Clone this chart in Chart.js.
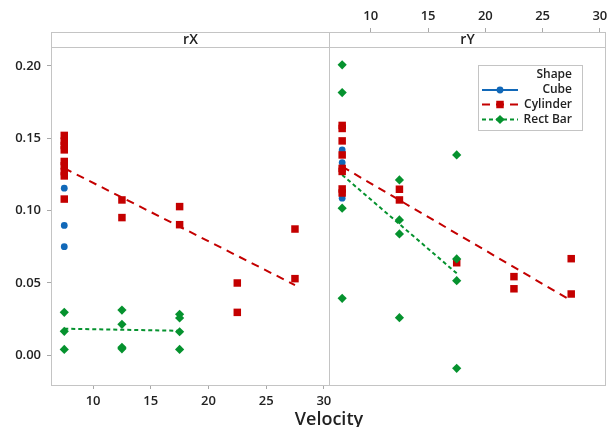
<!DOCTYPE html>
<html><head><meta charset="utf-8">
<script src="https://cdn.jsdelivr.net/npm/chart.js@4.4.0/dist/chart.umd.min.js"></script>
<style>
html,body{margin:0;padding:0;background:#fff;}
#wrap{position:relative;width:613px;height:427px;overflow:hidden;background:#fff;}
canvas{position:absolute;left:0;top:0;}
#xtitle{position:absolute;left:229px;width:200px;text-align:center;top:406px;font:600 18px 'Open Sans';color:#222;line-height:24px;}
</style></head><body>
<div id="wrap">
<canvas id="cL" width="613" height="427"></canvas>
<canvas id="cR" width="613" height="427"></canvas>
<div id="xtitle">Velocity</div>
</div>
<script>
// ---- data ----
const shapes = ['Cube', 'Cylinder', 'Rect Bar'];
const panels = ['rX', 'rY'];
const xTicks = [10, 15, 20, 25, 30];
const yTicks = [0.00, 0.05, 0.10, 0.15, 0.20];

const cubeVelocity = [7.5, 7.5, 7.5];
const cubeRX = [0.1155, 0.0898, 0.0751];
const cubeRY = [0.1420, 0.1332, 0.1086];

const cylVelocityRX = [7.5, 7.5, 7.5, 7.5, 7.5, 7.5, 7.5, 7.5, 7.5, 12.5, 12.5, 17.5, 17.5, 22.5, 22.5, 27.5, 27.5];
const cylRX = [0.152, 0.148, 0.145, 0.142, 0.134, 0.131, 0.127, 0.124, 0.108, 0.1074, 0.0952, 0.1028, 0.0903, 0.0500, 0.0297, 0.0873, 0.0530];
const cylVelocityRY = [7.5, 7.5, 7.5, 7.5, 7.5, 7.5, 7.5, 7.5, 12.5, 12.5, 17.5, 22.5, 22.5, 27.5, 27.5];
const cylRY = [0.1589, 0.1568, 0.1482, 0.1385, 0.1292, 0.1271, 0.1150, 0.1122, 0.1148, 0.1074, 0.0640, 0.0544, 0.0460, 0.0668, 0.0424];

const rectVelocityRX = [7.5, 7.5, 7.5, 12.5, 12.5, 12.5, 12.5, 17.5, 17.5, 17.5, 17.5];
const rectRX = [0.0297, 0.0166, 0.0041, 0.0313, 0.0214, 0.0056, 0.0045, 0.0284, 0.0258, 0.0163, 0.0041];
const rectVelocityRY = [7.5, 7.5, 7.5, 7.5, 12.5, 12.5, 12.5, 12.5, 17.5, 17.5, 17.5, 17.5];
const rectRY = [0.2008, 0.1816, 0.1017, 0.0394, 0.1212, 0.0936, 0.0839, 0.0260, 0.1385, 0.0666, 0.0516, -0.0090];

// fitted lines (end points)
const cylFitVelocity = [7.5, 27.5];
const cylFitRX = [0.1293, 0.0486];
const cylFitRY = [0.1304, 0.0378];
const rectFitVelocity = [7.5, 17.5];
const rectFitRX = [0.0184, 0.0170];
const rectFitRY = [0.1247, 0.0567];

// ---- styling ----
const X_MIN = 6.35, X_MAX = 30.45, Y_MIN = -0.0205, Y_MAX = 0.2131;
const COL = { Cube: '#1168b8', Cylinder: '#c40000', 'Rect Bar': '#05922e' };
const FONT = 'Open Sans';
const TXT = '#222';
const FRAME = '#c4c4c4';
const STYLE = {
  Cube: { pointStyle: 'circle', radius: 3.4, dash: [] },
  Cylinder: { pointStyle: 'rect', radius: 5.3, dash: [8, 6] },
  'Rect Bar': { pointStyle: 'rectRot', radius: 4.6, dash: [4, 3] }
};

function pts(xs, ys) { return xs.map((x, i) => ({ x: x, y: ys[i] })); }
function scatterDs(shape, xs, ys) {
  const s = STYLE[shape];
  return { type: 'scatter', label: shape, data: pts(xs, ys), showLine: false,
    pointStyle: s.pointStyle, pointRadius: s.radius, pointHoverRadius: s.radius,
    backgroundColor: COL[shape], borderColor: COL[shape], pointBorderWidth: 0 };
}
function lineDs(shape, xs, ys) {
  return { type: 'line', label: shape + ' fit', data: pts(xs, ys), showLine: true,
    pointRadius: 0, borderColor: COL[shape], borderWidth: 2, borderDash: STYLE[shape].dash,
    fill: false, tension: 0 };
}

const framePlugin = {
  id: 'frame',
  afterDraw(chart, args, opts) {
    const ctx = chart.ctx, a = chart.chartArea;
    ctx.save();
    ctx.fillStyle = '#fff';
    ctx.fillRect(a.left + 1, 33, a.right - a.left - 1, 14);
    ctx.strokeStyle = FRAME; ctx.lineWidth = 1;
    ctx.strokeRect(a.left + 0.5, 32.5, a.right - a.left, a.bottom - 32);
    ctx.beginPath(); ctx.moveTo(a.left, 47.5); ctx.lineTo(a.right + 1, 47.5); ctx.stroke();
    ctx.fillStyle = TXT;
    ctx.font = '600 14px "' + FONT + '"';
    ctx.textAlign = 'center'; ctx.textBaseline = 'middle';
    ctx.fillText(opts.title, (a.left + a.right) / 2 + 0.5, 40);
    ctx.restore();
  }
};

const legendPlugin = {
  id: 'shapeLegend',
  afterDraw(chart) {
    const ctx = chart.ctx;
    ctx.save();
    ctx.fillStyle = '#fff';
    ctx.fillRect(478, 65, 104, 65);
    ctx.strokeStyle = FRAME; ctx.lineWidth = 1;
    ctx.strokeRect(478.5, 65.5, 104, 65);
    ctx.fillStyle = TXT;
    ctx.font = '600 12px "' + FONT + '"';
    ctx.textAlign = 'right'; ctx.textBaseline = 'middle';
    ctx.fillText('Shape', 572, 75);
    const ys = [90, 104.5, 119.5];
    shapes.forEach((sh, i) => {
      const y = ys[i];
      ctx.strokeStyle = COL[sh]; ctx.lineWidth = 2;
      ctx.setLineDash(STYLE[sh].dash);
      ctx.beginPath(); ctx.moveTo(482, y); ctx.lineTo(518, y); ctx.stroke();
      ctx.setLineDash([]);
      ctx.fillStyle = COL[sh];
      Chart.helpers.drawPoint(ctx, { pointStyle: STYLE[sh].pointStyle, radius: STYLE[sh].radius, rotation: 0, borderWidth: 0 }, 500, y);
      ctx.fillStyle = TXT;
      ctx.fillText(sh, 572, y);
    });
    ctx.restore();
  }
};

const tickFont = { family: FONT, size: 13, weight: '600' };

function xScale(position) {
  return {
    type: 'linear', position: position, min: X_MIN, max: X_MAX,
    afterBuildTicks: s => { s.ticks = xTicks.map(v => ({ value: v })); },
    afterFit: s => { s.height = position === 'bottom' ? 42 : 47; },
    grid: { display: true, drawOnChartArea: false, drawTicks: true, tickLength: position === 'bottom' ? 4 : 19, color: '#a8a8a8' },
    border: { display: false },
    ticks: { padding: 4, color: TXT, font: tickFont, maxRotation: 0, autoSkip: false, callback: v => String(v) }
  };
}

function common(panel, datasets, scales, padding, plugins) {
  return {
    type: 'scatter',
    data: { datasets: datasets },
    options: {
      responsive: false, animation: false, devicePixelRatio: 1,
      layout: { padding: padding },
      plugins: { legend: { display: false }, tooltip: { enabled: false }, frame: { title: panel } },
      scales: scales
    },
    plugins: plugins
  };
}

// left panel: rX
new Chart(document.getElementById('cL'), common('rX', [
  scatterDs('Rect Bar', rectVelocityRX, rectRX),
  scatterDs('Cylinder', cylVelocityRX, cylRX),
  scatterDs('Cube', cubeVelocity, cubeRX),
  lineDs('Cylinder', cylFitVelocity, cylFitRX),
  lineDs('Rect Bar', rectFitVelocity, rectFitRX)
], {
  x: xScale('bottom'),
  y: {
    type: 'linear', position: 'left', min: Y_MIN, max: Y_MAX,
    afterBuildTicks: s => { s.ticks = yTicks.map(v => ({ value: v })); },
    afterFit: s => { s.width = 51; },
    grid: { display: true, drawOnChartArea: false, drawTicks: true, tickLength: 4, color: '#a8a8a8' },
    border: { display: false },
    ticks: { padding: 6, color: TXT, font: tickFont, callback: v => Number(v).toFixed(2) }
  }
}, { left: 0, right: 284, top: 47, bottom: 0 }, [framePlugin]));

// right panel: rY
new Chart(document.getElementById('cR'), common('rY', [
  scatterDs('Rect Bar', rectVelocityRY, rectRY),
  scatterDs('Cylinder', cylVelocityRY, cylRY),
  scatterDs('Cube', cubeVelocity, cubeRY),
  lineDs('Cylinder', cylFitVelocity, cylFitRY),
  lineDs('Rect Bar', rectFitVelocity, rectFitRY)
], {
  x: xScale('top'),
  y: { type: 'linear', display: false, min: Y_MIN, max: Y_MAX }
}, { left: 329, right: 8, top: 0, bottom: 42 }, [framePlugin, legendPlugin]));
</script>
</body></html>
